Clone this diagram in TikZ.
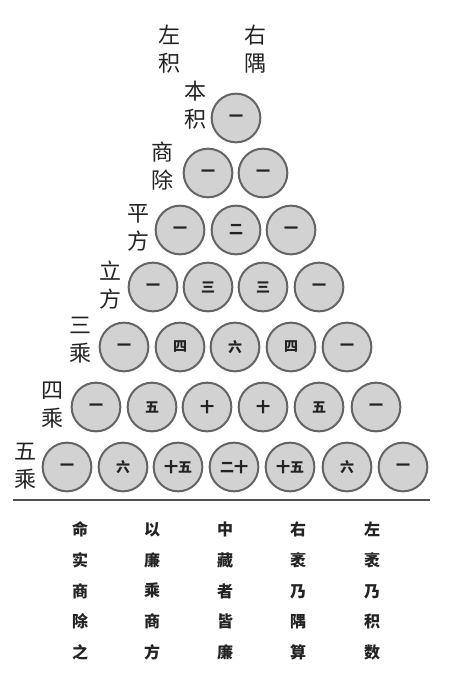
\documentclass[tikz,border=0pt]{standalone}
\usepackage{fontspec}
\newfontfamily\cjk{Noto Sans CJK SC}
\definecolor{coingray}{RGB}{210, 210, 210}
\definecolor{rimgray}{RGB}{100, 100, 100}
\definecolor{inkgray}{RGB}{35, 35, 35}
\usetikzlibrary{positioning}

\begin{document}
\begin{tikzpicture}[x=0.75pt, y=-0.75pt,
  coin/.style={circle, draw=rimgray, fill=coingray, line width=1.5pt, minimum size=36.5pt, inner sep=0pt, text=inkgray, font=\cjk\bfseries\fontsize{10.5}{10.5}\selectfont},
  side/.style={align=center, inner sep=0pt, text=inkgray, font=\cjk\fontsize{16.5}{21}\selectfont},
  verse/.style={align=center, inner sep=0pt, text=inkgray, font=\cjk\bfseries\fontsize{12}{23}\selectfont}]
  \path[use as bounding box, fill=white] (0,0) rectangle (452,677);

  % headings
  \node[side] (zuoji) at (169,49) {左\\积};
  \node[side] (youyu) at (255,49) {右\\隅};

  % row labels
  \node[side] (benji)  at (195,105) {本\\积};
  \node[side] (shangchu) at (162,166) {商\\除};
  \node[side] (pingfang) at (138,228) {平\\方};
  \node[side] (lifang) at (110,285) {立\\方};
  \node[side] (sancheng) at (80,340) {三\\乘};
  \node[side] (sicheng) at (52,405) {四\\乘};
  \node[side] (wucheng) at (25,466) {五\\乘};

  % the triangle of counts
  \node[coin] (r1c1) at (236,118) {一};

  \node[coin] (r2c1) at (208,173) {一};
  \node[coin] (r2c2) at (263,173) {一};

  \node[coin] (r3c1) at (180,230) {一};
  \node[coin] (r3c2) at (236,230) {二};
  \node[coin] (r3c3) at (291,230) {一};

  \node[coin] (r4c1) at (153,287) {一};
  \node[coin] (r4c2) at (208,287) {三};
  \node[coin] (r4c3) at (263,287) {三};
  \node[coin] (r4c4) at (319,287) {一};

  \node[coin] (r5c1) at (124,347) {一};
  \node[coin] (r5c2) at (180,347) {四};
  \node[coin] (r5c3) at (235,347) {六};
  \node[coin] (r5c4) at (291,347) {四};
  \node[coin] (r5c5) at (347,347) {一};

  \node[coin] (r6c1) at (96,407) {一};
  \node[coin] (r6c2) at (152,407) {五};
  \node[coin] (r6c3) at (207,407) {十};
  \node[coin] (r6c4) at (263,407) {十};
  \node[coin] (r6c5) at (319,407) {五};
  \node[coin] (r6c6) at (376,407) {一};

  \node[coin] (r7c1) at (67,467) {一};
  \node[coin] (r7c2) at (123,467) {六};
  \node[coin] (r7c3) at (178,467) {十五};
  \node[coin] (r7c4) at (234,467) {二十};
  \node[coin] (r7c5) at (290,467) {十五};
  \node[coin] (r7c6) at (347,467) {六};
  \node[coin] (r7c7) at (403,467) {一};

  % rule
  \draw[rimgray!80!black, line width=2.2pt] (13,500) -- (430,500);

  % verse, read right to left
  \node[verse] (v5) at (80,591)  {命\\实\\商\\除\\之};
  \node[verse] (v4) at (152,591) {以\\廉\\乘\\商\\方};
  \node[verse] (v3) at (225,591) {中\\藏\\者\\皆\\廉};
  \node[verse] (v2) at (298,591) {右\\袤\\乃\\隅\\算};
  \node[verse] (v1) at (372,591) {左\\袤\\乃\\积\\数};
\end{tikzpicture}
\end{document}
